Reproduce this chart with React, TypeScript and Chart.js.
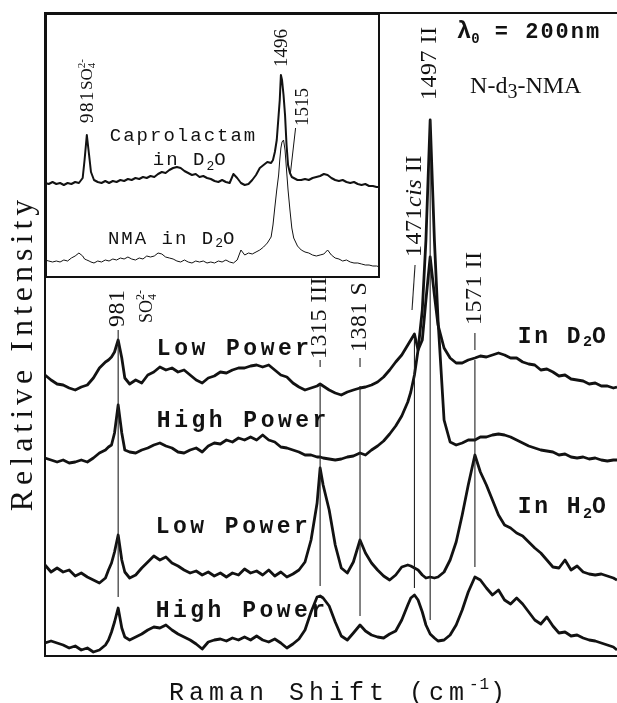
import React, { useEffect, useRef } from 'react';
import { Chart, registerables } from 'chart.js';

Chart.register(...registerables);

// ---------- main panel data (Raman shift, cm-1) ----------
const wavenumbers = [
  860, 870, 880, 890, 900, 910, 920, 930, 940, 950, 960,
  965, 970, 975, 981, 987, 992,
  1000, 1010, 1020, 1030, 1040, 1050, 1060, 1070, 1080, 1090, 1100, 1110, 1120, 1130, 1140, 1150,
  1160, 1170, 1180, 1190, 1200, 1210, 1220, 1230, 1240, 1250, 1260, 1270, 1280, 1290, 1300, 1310,
  1315,
  1320, 1330, 1340, 1350, 1360, 1370,
  1381,
  1390, 1400, 1410, 1420, 1430, 1440, 1450, 1460,
  1465, 1471, 1477, 1484, 1490, 1497, 1504, 1510,
  1520, 1530, 1540, 1550, 1560,
  1571,
  1580, 1590, 1600, 1610, 1620, 1630, 1640, 1650, 1660, 1670, 1680, 1690, 1700, 1710, 1720, 1730,
  1740, 1750, 1760, 1770, 1780, 1790, 1800,
  1806,
];

const lowPowerD2O = [
  281, 276, 272, 271, 268, 266, 269, 271, 278, 288, 294,
  296, 299, 304, 316, 298, 278,
  272, 276, 273, 281, 284, 289, 286, 288, 284, 286, 281, 276, 273, 278, 280, 284,
  283, 286, 288, 288, 290, 291, 289, 291, 286, 281, 279, 273, 269, 266, 268, 270,
  272,
  270, 266, 263, 261, 264, 266,
  268,
  269, 271, 274, 279, 286, 294, 301, 311,
  316, 322, 306, 316, 356, 399, 361, 331,
  308, 298, 293, 293, 296,
  298,
  300, 299, 301, 303, 301, 298, 298, 294, 292, 291, 286, 287, 284, 280, 281, 277,
  276, 275, 272, 273, 270, 270, 268,
  269,
];

const highPowerD2O = [
  198, 196, 194, 196, 193, 194, 196, 194, 198, 203, 206,
  209, 211, 223, 251, 223, 206,
  204, 203, 206, 208, 211, 213, 210, 208, 204, 203, 206, 208, 204, 210, 213, 212,
  216, 214, 218, 216, 219, 216, 221, 216, 214, 209, 208, 206, 204, 201, 201, 199,
  199,
  198, 197, 196, 197, 199, 200,
  203,
  201, 206, 210, 215, 222, 230, 240, 254,
  264, 281, 306, 346, 416, 536, 416, 336,
  236, 214, 211, 213, 216,
  216,
  219, 219, 221, 222, 221, 219, 216, 213, 210, 208, 206, 205, 204, 201, 202, 199,
  198, 199, 197, 198, 196, 195, 196,
  196,
];

const lowPowerH2O = [
  91, 84, 88, 84, 86, 80, 83, 79, 76, 73, 78,
  86, 93, 104, 121, 96, 84,
  78, 81, 88, 94, 100, 96, 99, 93, 90, 86, 83, 85, 81, 84, 80, 83,
  79, 83, 81, 87, 83, 85, 81, 86, 80, 84, 79, 82, 86, 94, 116, 153,
  188,
  171, 146, 111, 88, 83, 94,
  116,
  103, 93, 86, 80, 76, 81, 89, 91,
  90, 88, 86, 81, 78, 79, 78, 79,
  84, 96, 114, 141, 171,
  201,
  184, 171, 156, 141, 131, 128, 123, 120, 114, 108, 103, 96, 89, 88, 96, 86,
  90, 84, 82, 81, 82, 80, 78,
  76,
];

const highPowerH2O = [
  13, 15, 13, 11, 8, 10, 6, 8, 4, 6, 11,
  16, 24, 34, 48, 28, 19,
  16, 19, 22, 26, 29, 28, 31, 26, 22, 19, 16, 12, 7, 14, 16, 17,
  15, 18, 16, 19, 16, 20, 16, 14, 17, 13, 8, 12, 17, 26, 44, 59,
  60,
  58, 50, 34, 20, 16, 23,
  31,
  25, 21, 19, 18, 22, 25, 36, 51,
  58, 61, 56, 44, 31, 22, 18, 15,
  16, 21, 31, 46, 64,
  79,
  76, 68, 61, 66, 56, 52, 58, 52, 44, 36, 32, 39, 30, 23, 24, 20,
  21, 18, 16, 15, 13, 11, 9,
  6,
];

// ---------- inset data ----------
const insetWavenumbers = [
  870, 880, 890, 900, 910, 920, 930, 940, 950, 960, 970,
  975, 981, 987, 992,
  1000, 1010, 1020, 1030, 1040, 1050, 1060, 1070, 1080, 1090, 1100, 1110, 1120, 1130, 1140, 1150,
  1160, 1170, 1180, 1190, 1200, 1210, 1220, 1230, 1240, 1250, 1260, 1270, 1280, 1290, 1300, 1310,
  1320, 1330, 1340, 1350, 1360, 1370, 1380, 1390, 1400, 1410, 1420, 1430, 1440, 1450, 1460, 1470,
  1475, 1480, 1485, 1490, 1493, 1496, 1499, 1503, 1507, 1511, 1515, 1520, 1525, 1530,
  1540, 1550, 1560, 1570, 1580, 1590, 1600, 1610, 1620, 1630, 1640, 1650, 1660, 1670, 1680, 1690,
  1700, 1710, 1720, 1730, 1740, 1750,
  1759,
];

const caprolactamD2O = [
  95, 94, 96, 94, 95, 93, 95, 94, 96, 95, 100,
  118, 143, 123, 106,
  98, 96, 95, 97, 95, 97, 96, 98, 97, 99, 98, 100, 99, 101, 100, 102,
  101, 104, 106, 105, 108, 110, 111, 110, 107, 105, 103, 104, 101, 102, 100, 99,
  97, 96, 98, 96, 95, 104, 100, 95, 93, 94, 98, 103, 110, 113, 116, 115,
  118, 126, 138, 163, 178, 203, 198, 183, 163, 133, 113, 105, 101, 100,
  98, 98, 99, 98, 100, 101, 102, 104, 103, 100, 98, 97, 98, 96, 95, 96,
  94, 93, 94, 92, 92, 91,
  91,
];

const nmaD2O = [
  18, 17, 16, 17, 16, 18, 17, 20, 22, 25, 22,
  19, 18, 17, 16,
  15, 17, 16, 18, 17, 19, 18, 20, 19, 21, 19, 18, 20, 19, 22, 21,
  22, 25, 24, 21, 20, 19, 17, 16, 18, 16, 15, 17, 16, 17, 15, 16,
  15, 17, 16, 18, 16, 15, 18, 28, 23, 25, 24, 26, 28, 31, 35, 41,
  53, 71, 88, 103, 118, 130, 136, 138, 128, 108, 88, 68, 50, 40,
  32, 28, 26, 25, 23, 22, 23, 24, 28, 23, 20, 19, 17, 18, 16, 15,
  15, 14, 13, 13, 12, 12,
  11,
];

// ---------- styling / annotation ----------
const SERIF = '"Liberation Serif", "Times New Roman", Times, serif';
const MONO = '"Liberation Mono", "Courier New", Courier, monospace';
const INK = '#121212';

type Part = { t: string; font: string; dy?: number; ls?: number; stay?: boolean };

const lbl = (t: string, extra = ''): Part => ({ t, font: `${extra}24px ${SERIF}`, ls: 0.5 });
const trace = (t: string): Part => ({ t, font: `bold 23px ${MONO}`, ls: 3.5 });

const peakLabels: { w: number; v: number; parts: Part[] }[] = [
  { w: 981, v: 329, parts: [lbl('981')] },
  {
    w: 1029, v: 333, parts: [
      { t: 'SO', font: `18px ${SERIF}` },
      { t: '4', font: `12px ${SERIF}`, dy: 6, stay: true },
      { t: '2-', font: `12px ${SERIF}`, dy: -6 },
    ],
  },
  { w: 1315, v: 297, parts: [lbl('1315 III')] },
  { w: 1381, v: 304, parts: [lbl('1381 S')] },
  { w: 1471, v: 399, parts: [lbl('1471'), lbl('cis', 'italic '), lbl(' II')] },
  { w: 1497, v: 556, parts: [lbl('1497 II')] },
  { w: 1571, v: 331, parts: [lbl('1571 II')] },
];

const traceLabels: { w: number; v: number; parts: Part[] }[] = [
  { w: 1045, v: 301, parts: [trace('Low Power')] },
  { w: 1045, v: 229, parts: [trace('High Power')] },
  { w: 1043, v: 123, parts: [trace('Low Power')] },
  { w: 1043, v: 39, parts: [trace('High Power')] },
  {
    w: 1642, v: 313, parts: [
      { t: 'In D', font: `bold 23px ${MONO}`, ls: 2.5 },
      { t: '2', font: `bold 15px ${MONO}`, dy: 3 },
      { t: 'O', font: `bold 23px ${MONO}` },
    ],
  },
  {
    w: 1642, v: 143, parts: [
      { t: 'In H', font: `bold 23px ${MONO}`, ls: 2.5 },
      { t: '2', font: `bold 15px ${MONO}`, dy: 5 },
      { t: 'O', font: `bold 23px ${MONO}` },
    ],
  },
  {
    w: 1541, v: 618, parts: [
      { t: 'λ', font: `bold 24px ${MONO}` },
      { t: '0', font: `bold 14px ${MONO}`, dy: 5 },
      { t: ' = 200nm', font: `bold 22px ${MONO}`, ls: 2 },
    ],
  },
  {
    w: 1563, v: 563, parts: [
      { t: 'N-d', font: `24px ${SERIF}` },
      { t: '3', font: `20px ${SERIF}`, dy: 5 },
      { t: '-NMA', font: `24px ${SERIF}` },
    ],
  },
];

const markerSegments = [
  { w1: 981, v1: 326, w2: 981, v2: 59 },
  { w1: 1315, v1: 296, w2: 1315, v2: 289 },
  { w1: 1315, v1: 272, w2: 1315, v2: 70 },
  { w1: 1381, v1: 298, w2: 1381, v2: 289 },
  { w1: 1381, v1: 270, w2: 1381, v2: 40 },
  { w1: 1472, v1: 391, w2: 1467, v2: 346 },
  { w1: 1471, v1: 318, w2: 1471, v2: 68 },
  { w1: 1497, v1: 536, w2: 1497, v2: 36 },
  { w1: 1571, v1: 323, w2: 1571, v2: 306 },
  { w1: 1571, v1: 296, w2: 1571, v2: 89 },
];

const insetPeakLabels: { w: number; v: number; parts: Part[] }[] = [
  {
    w: 983, v: 155, parts: [
      { t: '981', font: `19px ${SERIF}`, ls: 1.5 },
      { t: 'SO', font: `17px ${SERIF}` },
      { t: '4', font: `11px ${SERIF}`, dy: 5, stay: true },
      { t: '2-', font: `11px ${SERIF}`, dy: -5 },
    ],
  },
  { w: 1499, v: 211, parts: [{ t: '1496', font: `19px ${SERIF}` }] },
  { w: 1554, v: 152, parts: [{ t: '1515', font: `19px ${SERIF}` }] },
];

const insetTextLabels: { w: number; v: number; parts: Part[] }[] = [
  { w: 1042, v: 137, parts: [{ t: 'Caprolactam', font: `19px ${MONO}`, ls: 2 }] },
  {
    w: 1156, v: 113, parts: [
      { t: 'in D', font: `19px ${MONO}`, ls: 2 },
      { t: '2', font: `13px ${MONO}`, dy: 5 },
      { t: 'O', font: `19px ${MONO}` },
    ],
  },
  {
    w: 1037, v: 34, parts: [
      { t: 'NMA in D', font: `19px ${MONO}`, ls: 2 },
      { t: '2', font: `13px ${MONO}`, dy: 3 },
      { t: 'O', font: `19px ${MONO}` },
    ],
  },
];

const insetSegments = [{ w1: 1535, v1: 150, w2: 1521, v2: 104 }];

const yTitle: Part[] = [{ t: 'Relative Intensity', font: `32px ${SERIF}`, ls: 5 }];
const xTitle: Part[] = [
  { t: 'Raman Shift (cm', font: `25px ${MONO}`, ls: 5 },
  { t: '-1', font: `16px ${MONO}`, dy: -11, ls: 1 },
  { t: ')', font: `25px ${MONO}` },
];

function drawParts(
  ctx: CanvasRenderingContext2D,
  parts: Part[],
  x: number,
  y: number,
  rotate: boolean,
  align: 'start' | 'center',
  baseline: CanvasTextBaseline,
) {
  ctx.save();
  ctx.translate(x, y);
  if (rotate) ctx.rotate(-Math.PI / 2);
  ctx.textBaseline = baseline;
  ctx.textAlign = 'left';
  const widths = parts.map((p) => {
    ctx.font = p.font;
    (ctx as any).letterSpacing = `${p.ls ?? 0}px`;
    return p.stay ? 0 : ctx.measureText(p.t).width;
  });
  const total = widths.reduce((a, b) => a + b, 0);
  let cx = align === 'center' ? -total / 2 : 0;
  parts.forEach((p, i) => {
    ctx.font = p.font;
    (ctx as any).letterSpacing = `${p.ls ?? 0}px`;
    ctx.fillText(p.t, cx, p.dy ?? 0);
    cx += widths[i];
  });
  ctx.restore();
}

const mainDecor = {
  id: 'mainDecor',
  afterDatasetsDraw(chart: any) {
    const { ctx, chartArea: a, scales } = chart;
    const x = scales.x;
    const y = scales.y;
    ctx.save();
    ctx.strokeStyle = INK;
    ctx.lineWidth = 2;
    ctx.beginPath();
    ctx.moveTo(a.left - 1, a.top + 1);
    ctx.lineTo(a.right, a.top + 1);
    ctx.moveTo(a.left, a.top);
    ctx.lineTo(a.left, a.bottom);
    ctx.lineTo(a.right, a.bottom);
    ctx.stroke();

    ctx.lineWidth = 1.1;
    ctx.strokeStyle = '#222';
    for (const s of markerSegments) {
      ctx.beginPath();
      ctx.moveTo(x.getPixelForValue(s.w1), y.getPixelForValue(s.v1));
      ctx.lineTo(x.getPixelForValue(s.w2), y.getPixelForValue(s.v2));
      ctx.stroke();
    }

    ctx.fillStyle = INK;
    for (const l of peakLabels)
      drawParts(ctx, l.parts, x.getPixelForValue(l.w), y.getPixelForValue(l.v), true, 'start', 'middle');
    for (const l of traceLabels)
      drawParts(ctx, l.parts, x.getPixelForValue(l.w), y.getPixelForValue(l.v), false, 'start', 'alphabetic');

    drawParts(ctx, yTitle, a.left - 21, (a.top + a.bottom) / 2 + 19, true, 'center', 'middle');
    drawParts(ctx, xTitle, (a.left + a.right) / 2 + 6, a.bottom + 44, false, 'center', 'alphabetic');
    ctx.restore();
  },
};

const insetDecor = {
  id: 'insetDecor',
  afterDatasetsDraw(chart: any) {
    const { ctx, chartArea: a, scales } = chart;
    const x = scales.x;
    const y = scales.y;
    ctx.save();
    ctx.strokeStyle = INK;
    ctx.lineWidth = 2;
    ctx.strokeRect(a.left + 1, a.top + 1, a.right - a.left - 2, a.bottom - a.top - 2);
    ctx.lineWidth = 1;
    for (const s of insetSegments) {
      ctx.beginPath();
      ctx.moveTo(x.getPixelForValue(s.w1), y.getPixelForValue(s.v1));
      ctx.lineTo(x.getPixelForValue(s.w2), y.getPixelForValue(s.v2));
      ctx.stroke();
    }
    ctx.fillStyle = INK;
    for (const l of insetPeakLabels)
      drawParts(ctx, l.parts, x.getPixelForValue(l.w), y.getPixelForValue(l.v), true, 'start', 'middle');
    for (const l of insetTextLabels)
      drawParts(ctx, l.parts, x.getPixelForValue(l.w), y.getPixelForValue(l.v), false, 'start', 'alphabetic');
    ctx.restore();
  },
};

const toPoints = (xs: number[], ys: number[]) => xs.map((w, i) => ({ x: w, y: ys[i] }));

export default function App() {
  const mainRef = useRef<HTMLCanvasElement>(null);
  const insetRef = useRef<HTMLCanvasElement>(null);

  useEffect(() => {
    const lineDs = (label: string, ys: number[], xs: number[], width: number) => ({
      label,
      data: toPoints(xs, ys),
      borderColor: INK,
      borderWidth: width,
      pointRadius: 0,
      tension: 0,
      fill: false,
      borderJoinStyle: 'round' as const,
    });

    const main = new Chart(mainRef.current as HTMLCanvasElement, {
      type: 'line',
      data: {
        datasets: [
          lineDs('Low Power, D2O', lowPowerD2O, wavenumbers, 2.8),
          lineDs('High Power, D2O', highPowerD2O, wavenumbers, 2.8),
          lineDs('Low Power, H2O', lowPowerH2O, wavenumbers, 2.8),
          lineDs('High Power, H2O', highPowerH2O, wavenumbers, 2.8),
        ],
      },
      options: {
        responsive: false,
        animation: false,
        layout: { padding: { left: 45, right: 0, top: 12, bottom: 47 } },
        plugins: { legend: { display: false }, tooltip: { enabled: false } },
        scales: {
          x: { type: 'linear', min: 860, max: 1806, display: false },
          y: { type: 'linear', min: 0, max: 644, display: false },
        },
      },
      plugins: [mainDecor],
    });

    const inset = new Chart(insetRef.current as HTMLCanvasElement, {
      type: 'line',
      data: {
        datasets: [
          lineDs('Caprolactam in D2O', caprolactamD2O, insetWavenumbers, 2),
          lineDs('NMA in D2O', nmaD2O, insetWavenumbers, 1),
        ],
      },
      options: {
        responsive: false,
        animation: false,
        layout: { padding: 0 },
        plugins: { legend: { display: false }, tooltip: { enabled: false } },
        scales: {
          x: { type: 'linear', min: 870, max: 1759, display: false },
          y: { type: 'linear', min: 0, max: 265, display: false },
        },
      },
      plugins: [insetDecor],
    });

    return () => {
      main.destroy();
      inset.destroy();
    };
  }, []);

  return (
    <div style={{ position: 'absolute', left: 0, top: 0, width: 617, height: 703, background: '#fff' }}>
      <canvas
        ref={mainRef}
        width={617}
        height={703}
        style={{ position: 'absolute', left: 0, top: 0, width: 617, height: 703 }}
      />
      <canvas
        ref={insetRef}
        width={335}
        height={265}
        style={{ position: 'absolute', left: 45, top: 13, width: 335, height: 265, background: '#fff' }}
      />
    </div>
  );
}
